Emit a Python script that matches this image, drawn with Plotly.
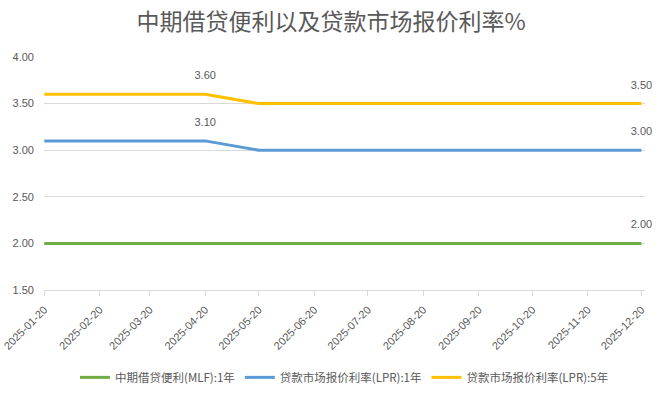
import plotly.graph_objects as go

dates = ["2025-01-20", "2025-02-20", "2025-03-20", "2025-04-20", "2025-05-20", "2025-06-20",
         "2025-07-20", "2025-08-20", "2025-09-20", "2025-10-20", "2025-11-20", "2025-12-20"]
mlf_1y = [2.00, 2.00, 2.00, 2.00, 2.00, 2.00, 2.00, 2.00, 2.00, 2.00, 2.00, 2.00]
lpr_1y = [3.10, 3.10, 3.10, 3.10, 3.00, 3.00, 3.00, 3.00, 3.00, 3.00, 3.00, 3.00]
lpr_5y = [3.60, 3.60, 3.60, 3.60, 3.50, 3.50, 3.50, 3.50, 3.50, 3.50, 3.50, 3.50]

series = [
    ("中期借贷便利(MLF):1年", mlf_1y, "#70AD47", [11]),
    ("贷款市场报价利率(LPR):1年", lpr_1y, "#5B9BD5", [3, 11]),
    ("贷款市场报价利率(LPR):5年", lpr_5y, "#FFC000", [3, 11]),
]

FONT = "Liberation Sans, Noto Sans CJK SC, sans-serif"
CJK = "Noto Sans CJK SC, sans-serif"

fig = go.Figure()
for name, vals, color, lab_idx in series:
    labels = [f"{v:.2f}" if i in lab_idx else "" for i, v in enumerate(vals)]
    fig.add_trace(go.Scatter(
        x=dates, y=vals, name=name, mode="lines+markers+text",
        line=dict(color=color, width=3),
        marker=dict(size=18, color="rgba(0,0,0,0)"),
        text=labels, textposition="top center",
        textfont=dict(family=FONT, size=11, color="#595959"),
        cliponaxis=False,
    ))

fig.update_layout(
    width=662, height=397,
    margin=dict(l=44, r=17, t=57, b=107, autoexpand=False),
    paper_bgcolor="white", plot_bgcolor="white",
    title=dict(text="中期借贷便利以及贷款市场报价利率%", x=0.5, xanchor="center", y=0.945, yanchor="middle",
               yref="container", font=dict(family=CJK, size=23, color="#595959")),
    legend=dict(orientation="h", x=0.5, xanchor="center", y=-0.375, yanchor="middle",
                font=dict(family=CJK, size=11.5, color="#595959"),
                traceorder="normal", itemwidth=30),
    showlegend=True,
)
fig.update_xaxes(
    type="date", range=["2025-01-19 20:00", "2025-12-22"], automargin=False,
    tickvals=dates, ticktext=dates, tickangle=-45, ticklabeloverflow="allow",
    ticklabelstandoff=3,
    tickfont=dict(family=FONT, size=11, color="#595959"),
    showgrid=False, showline=True, linecolor="#D9D9D9", linewidth=1,
    ticks="outside", ticklen=5, tickcolor="#D9D9D9", zeroline=False,
)
fig.update_yaxes(
    range=[1.5, 4.0], dtick=0.5, tickformat=".2f", automargin=False,
    tickfont=dict(family=FONT, size=11, color="#595959"),
    showgrid=True, gridcolor="#D9D9D9", gridwidth=1, zeroline=False,
    showline=False, ticks="", ticklabelstandoff=9,
)

fig.write_html("out.html", config={"displayModeBar": False},
               post_script="document.body.style.margin='0';")
